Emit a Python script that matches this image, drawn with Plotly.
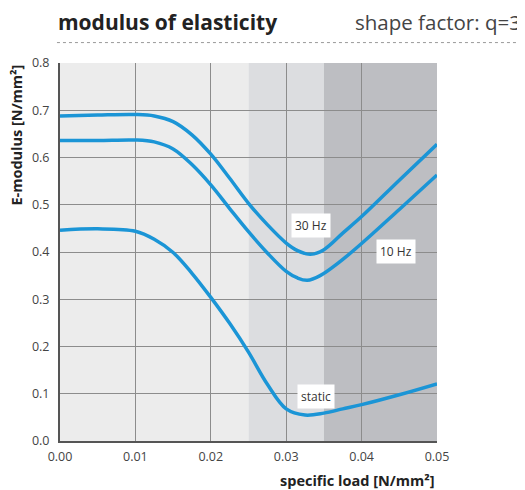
import plotly.graph_objects as go

# --- data ---
x_30hz = [0, 0.005, 0.01, 0.0125, 0.015, 0.0175, 0.02, 0.0225, 0.025, 0.0275, 0.03, 0.0315, 0.0332, 0.035, 0.0375, 0.04, 0.045, 0.05]
y_30hz = [0.688, 0.690, 0.691, 0.688, 0.676, 0.648, 0.607, 0.556, 0.503, 0.458, 0.419, 0.403, 0.395, 0.405, 0.440, 0.475, 0.552, 0.628]

x_10hz = [0, 0.005, 0.01, 0.0125, 0.015, 0.0175, 0.02, 0.0225, 0.025, 0.0275, 0.03, 0.0315, 0.0328, 0.0345, 0.037, 0.04, 0.045, 0.05]
y_10hz = [0.636, 0.636, 0.637, 0.633, 0.618, 0.585, 0.542, 0.492, 0.443, 0.398, 0.359, 0.345, 0.340, 0.350, 0.378, 0.418, 0.490, 0.563]

x_static = [0, 0.005, 0.01, 0.0125, 0.015, 0.0175, 0.02, 0.0225, 0.025, 0.0275, 0.03, 0.0325, 0.035, 0.0375, 0.04, 0.045, 0.05]
y_static = [0.446, 0.449, 0.444, 0.427, 0.399, 0.355, 0.304, 0.249, 0.188, 0.120, 0.068, 0.055, 0.059, 0.068, 0.077, 0.098, 0.121]

band_edges = [0.0, 0.025, 0.035, 0.05]
band_colors = ["#ececec", "#dcdde0", "#bdbec2"]

label_texts = ["30 Hz", "10 Hz", "static"]
label_x = [0.0333, 0.0445, 0.0339]
label_y = [0.457, 0.401, 0.0945]

x_ticks = [0, 0.01, 0.02, 0.03, 0.04, 0.05]
y_ticks = [0, 0.1, 0.2, 0.3, 0.4, 0.5, 0.6, 0.7, 0.8]

FONT = "Open Sans"
LINE_COLOR = "#1b95d6"

fig = go.Figure()
for xs, ys in [(x_30hz, y_30hz), (x_10hz, y_10hz), (x_static, y_static)]:
    fig.add_trace(go.Scatter(x=xs, y=ys, mode="lines",
                             line=dict(color=LINE_COLOR, width=3.5, shape="spline", smoothing=1.0),
                             showlegend=False, hoverinfo="skip"))

shapes = []
for i in range(len(band_colors)):
    shapes.append(dict(type="rect", xref="x", yref="y", x0=band_edges[i], x1=band_edges[i + 1],
                       y0=0, y1=0.8, fillcolor=band_colors[i], line=dict(width=0), layer="below"))
# dotted rule under heading
shapes.append(dict(type="line", xref="paper", yref="paper", x0=-0.008, x1=1.215, y0=1.054, y1=1.054,
                   line=dict(color="#9a9a9a", width=1, dash="dot")))

annotations = []
for t, lx, ly in zip(label_texts, label_x, label_y):
    annotations.append(dict(x=lx, y=ly, xref="x", yref="y", text=t, showarrow=False,
                            bgcolor="white", borderpad=3,
                            font=dict(family=FONT, size=12, color="#333333")))
annotations += [
    dict(x=-0.008, y=1.109, xref="paper", yref="paper", text="<b>modulus of elasticity</b>",
         showarrow=False, xanchor="left", yanchor="middle", borderpad=0,
         font=dict(family=FONT, size=21, color="#222222")),
    dict(x=1.225, y=1.109, xref="paper", yref="paper", text="shape factor: q=3",
         showarrow=False, xanchor="right", yanchor="middle", borderpad=0,
         font=dict(family=FONT, size=20.5, color="#444444")),
    dict(x=-0.114, y=0.808, xref="paper", yref="paper", text="<b>E-modulus [N/mm²]</b>",
         showarrow=False, textangle=-90, xanchor="center", yanchor="middle",
         font=dict(family=FONT, size=14.5, color="#222222")),
    dict(x=1.0, y=-0.104, xref="paper", yref="paper", text="<b>specific load [N/mm²]</b>",
         showarrow=False, xanchor="right", yanchor="middle",
         font=dict(family=FONT, size=14.5, color="#222222")),
]

fig.update_layout(
    width=517, height=482,
    margin=dict(l=52, r=88, t=55, b=48.5, pad=0),
    paper_bgcolor="white", plot_bgcolor="white",
    shapes=shapes, annotations=annotations,
    font=dict(family=FONT, size=12, color="#444444"),
)
fig.update_xaxes(range=[0, 0.05], tickvals=x_ticks, tickformat=".2f",
                 showgrid=True, gridcolor="#8c8c8c", gridwidth=1,
                 showline=True, linecolor="#555555", linewidth=2,
                 zeroline=False, ticks="", layer="above traces", ticklabelstandoff=3,
                 tickfont=dict(family=FONT, size=12.5, color="#444444"))
fig.update_yaxes(range=[0, 0.8], tickvals=y_ticks, tickformat=".1f",
                 showgrid=True, gridcolor="#8c8c8c", gridwidth=1,
                 showline=True, linecolor="#555555", linewidth=2,
                 zeroline=False, ticks="", layer="above traces", ticklabelstandoff=6,
                 tickfont=dict(family=FONT, size=12.5, color="#444444"))

fig.write_html("out.html")
